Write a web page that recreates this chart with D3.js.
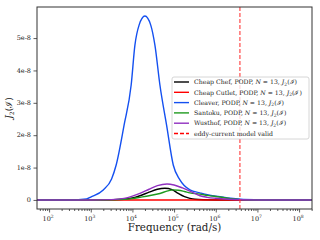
<!DOCTYPE html>
<html><head><meta charset="utf-8">
<script src="https://cdn.jsdelivr.net/npm/d3@7"></script>
<style>body{margin:0;background:#fff;} text{font-family:"DejaVu Serif","Liberation Serif",serif;}</style>
</head><body><svg id="c" width="320" height="240"></svg>
<script>
// log10(frequency) and J2 values (units of 1e-8)
const cheapChefF = [1.7, 3.3, 3.8, 4.0, 4.18, 4.4, 4.6, 4.78, 4.95, 5.1, 5.25, 5.38, 5.5, 5.7, 6.0, 8.3];
const cheapChefV = [0, 0, 0.02, 0.06, 0.13, 0.24, 0.33, 0.36, 0.32, 0.2, 0.1, 0.05, 0.02, 0.005, 0, 0];
const cheapCutletF = [1.7, 3.0, 4.0, 5.0, 6.0, 7.0, 8.3];
const cheapCutletV = [0, 0, 0, 0, 0, 0, 0];
const cleaverF = [1.7, 2.5, 2.9, 3.0, 3.3, 3.5, 3.61, 3.8, 3.97, 4.06, 4.16, 4.3, 4.44, 4.54, 4.66, 4.82, 4.98, 5.14, 5.38, 5.62, 5.8, 6.1, 6.35, 6.6, 7.0, 7.3, 8.3];
const cleaverV = [0, 0, 0.03, 0.09, 0.31, 0.65, 1.08, 2.31, 3.55, 4.78, 5.4, 5.68, 5.4, 4.78, 3.55, 2.31, 1.08, 0.62, 0.31, 0.22, 0.16, 0.1, 0.05, 0.02, 0.005, 0, 0];
const santokuF = [1.7, 3.3, 3.8, 4.0, 4.18, 4.4, 4.66, 4.85, 4.98, 5.1, 5.25, 5.38, 5.62, 5.8, 6.1, 6.35, 6.6, 6.9, 8.3];
const santokuV = [0, 0, 0.02, 0.04, 0.08, 0.13, 0.2, 0.28, 0.31, 0.3, 0.26, 0.22, 0.18, 0.14, 0.09, 0.04, 0.01, 0, 0];
const wusthofF = [1.7, 3.0, 3.5, 3.8, 4.0, 4.18, 4.4, 4.6, 4.83, 5.0, 5.2, 5.38, 5.62, 5.8, 6.0, 6.3, 6.6, 7.0, 8.3];
const wusthofV = [0, 0, 0.01, 0.05, 0.12, 0.2, 0.33, 0.44, 0.49, 0.46, 0.37, 0.27, 0.13, 0.08, 0.05, 0.02, 0.005, 0, 0];
const seriesNames = ["Cheap Chef", "Cheap Cutlet", "Cleaver", "Santoku", "Wusthof"];
const seriesColors = ["#000000", "#ff0000", "#1450f0", "#1f9a1f", "#9030c0"];
const eddyLimit = 3.8e6;
const yTicks = [0, 1e-8, 2e-8, 3e-8, 4e-8, 5e-8];
const yTickLabels = ["0", "1e-8", "2e-8", "3e-8", "4e-8", "5e-8"];
const xExps = [2, 3, 4, 5, 6, 7, 8];

const svg = d3.select("#c");
const L = 37, R = 312, T = 7, B = 209;
const x = d3.scaleLog().domain([Math.pow(10, 1.71), Math.pow(10, 8.31)]).range([L, R]);
const y = d3.scaleLinear().domain([-0.28e-8, 5.96e-8]).range([B, T]);

const data = [
  [cheapChefF, cheapChefV], [cheapCutletF, cheapCutletV], [cleaverF, cleaverV],
  [santokuF, santokuV], [wusthofF, wusthofV]
].map(([f, v]) => f.map((e, i) => ({f: Math.pow(10, e), v: v[i] * 1e-8})));

svg.append("clipPath").attr("id", "cp").append("rect")
  .attr("x", L).attr("y", T).attr("width", R - L).attr("height", B - T);

const line = d3.line().x(d => x(d.f)).y(d => y(d.v)).curve(d3.curveMonotoneX);
const g = svg.append("g").attr("clip-path", "url(#cp)");
data.forEach((d, i) => {
  g.append("path").attr("d", line(d)).attr("fill", "none")
    .attr("stroke", seriesColors[i]).attr("stroke-width", 1.4);
});
g.append("line").attr("x1", x(eddyLimit)).attr("x2", x(eddyLimit)).attr("y1", T).attr("y2", B)
  .attr("stroke", "#ff3030").attr("stroke-opacity", 0.75).attr("stroke-width", 1.4).attr("stroke-dasharray", "4,2");

// axes
const xAxis = d3.axisBottom(x).tickValues(xExps.map(e => Math.pow(10, e))).tickSize(3.5).tickFormat("");
svg.append("g").attr("transform", `translate(0,${B})`).call(xAxis);
const minor = [];
for (let e = 1; e <= 8; e++) for (let m = 2; m <= 9; m++) { const v = m * Math.pow(10, e); if (v > x.domain()[0] && v < x.domain()[1]) minor.push(v); }
svg.append("g").attr("transform", `translate(0,${B})`).call(d3.axisBottom(x).tickValues(minor).tickSize(2).tickFormat(""));
svg.append("g").attr("transform", `translate(${L},0)`).call(d3.axisLeft(y).tickValues(yTicks).tickSize(3.5).tickFormat(""));
svg.selectAll(".domain").remove();
svg.selectAll(".tick line").attr("stroke", "#333").attr("stroke-width", 0.8);

xExps.forEach(e => {
  const t = svg.append("text").attr("x", x(Math.pow(10, e)) - 1).attr("y", 220.5).attr("text-anchor", "middle")
    .attr("font-size", 6.5).attr("fill", "#222");
  t.append("tspan").text("10");
  t.append("tspan").attr("dy", -3).attr("font-size", 4.5).text(e);
});
yTicks.forEach((v, i) => {
  svg.append("text").attr("x", 31).attr("y", y(v) + 2.3).attr("text-anchor", "end")
    .attr("font-size", 6.5).attr("fill", "#222").text(yTickLabels[i]);
});

svg.append("rect").attr("x", L).attr("y", T).attr("width", R - L).attr("height", B - T)
  .attr("fill", "none").attr("stroke", "#333").attr("stroke-width", 1);

svg.append("text").attr("x", (L + R) / 2).attr("y", 231).attr("text-anchor", "middle")
  .attr("font-size", 10.3).attr("font-family", "Liberation Serif").attr("fill", "#222").text("Frequency (rad/s)");
const yl = svg.append("text").attr("transform", `translate(12,${(T + B) / 2}) rotate(-90)`)
  .attr("text-anchor", "middle").attr("font-size", 9).attr("fill", "#222");
yl.append("tspan").attr("font-style", "italic").text("J");
yl.append("tspan").attr("dy", 2).attr("font-size", 6).text("2");
yl.append("tspan").attr("dy", -2).text("(ℐ)");

// legend
const lg = svg.append("g");
lg.append("rect").attr("x", 172).attr("y", 77).attr("width", 137).attr("height", 62).attr("rx", 2)
  .attr("fill", "#fff").attr("fill-opacity", 0.8).attr("stroke", "#ccc").attr("stroke-width", 0.8);
const rowY = i => 82 + i * 10.3;
seriesNames.forEach((n, i) => {
  lg.append("line").attr("x1", 174).attr("x2", 189).attr("y1", rowY(i)).attr("y2", rowY(i))
    .attr("stroke", seriesColors[i]).attr("stroke-width", 1.4);
  const t = lg.append("text").attr("x", 194).attr("y", rowY(i) + 2.2).attr("font-size", 6.2).attr("fill", "#222");
  t.append("tspan").text(n + ", PODP, ");
  t.append("tspan").attr("font-style", "italic").text("N");
  t.append("tspan").text(" = 13, ");
  t.append("tspan").attr("font-style", "italic").text("J");
  t.append("tspan").attr("dy", 1.5).attr("font-size", 4.5).text("2");
  t.append("tspan").attr("dy", -1.5).text("(ℐ)");
});
lg.append("line").attr("x1", 174).attr("x2", 189).attr("y1", rowY(5)).attr("y2", rowY(5))
  .attr("stroke", "#ff0000").attr("stroke-width", 1.4).attr("stroke-dasharray", "4,2");
lg.append("text").attr("x", 194).attr("y", rowY(5) + 2.2).attr("font-size", 6.2).attr("fill", "#222").text("eddy-current model valid");
</script></body></html>
